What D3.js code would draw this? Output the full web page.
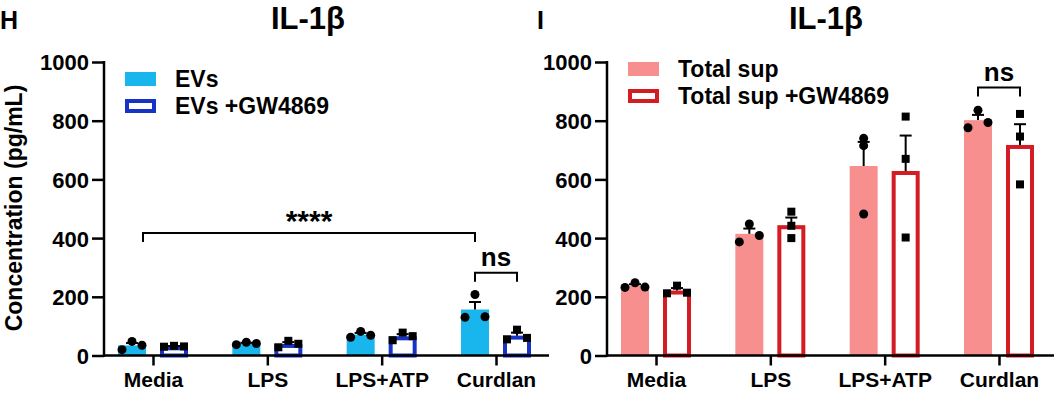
<!DOCTYPE html>
<html>
<head>
<meta charset="utf-8">
<script src="https://cdn.jsdelivr.net/npm/d3@7"></script>
<style>
  body { margin: 0; background: #fff; }
  svg { display: block; font-family: "Liberation Sans", Arial, sans-serif; font-weight: bold; }
</style>
</head>
<body>
<svg id="chart" width="1054" height="394"></svg>
<script>
// categories and ticks
const categories = ['Media', 'LPS', 'LPS+ATP', 'Curdlan'];
const yTicks = [0, 200, 400, 600, 800, 1000];

// panel H: EV replicates (pg/mL)
const evs = [[20, 48, 35], [37, 45, 41], [62, 82, 69], [130, 208, 132]];
const evsGW = [[30, 33, 31], [28, 50, 40], [52, 78, 66], [55, 88, 60]];

// panel I: total supernatant replicates (pg/mL)
const totalSup = [[232, 248, 233], [387, 448, 409], [482, 740, 715], [776, 836, 794]];
const totalSupGW = [[212, 238, 214], [400, 442, 490], [402, 670, 814], [583, 746, 823]];

const svg = d3.select('#chart');

const mean = a => d3.mean(a);
const sem = a => d3.deviation(a) / Math.sqrt(a.length);

function drawPanel(opts) {
    const g = svg.append('g').attr('transform', `translate(${opts.x},0)`);

    const y = d3.scaleLinear().domain([0, 1000]).range([355.5, 62]);
    const x = d3.scalePoint().domain(categories).range([49, 392]);
    const off = 21, bw = 28;

    // panel letter + title
    svg.append('text')
        .attr('x', opts.letterX).attr('y', 29)
        .attr('font-size', 25)
        .text(opts.letter);
    svg.append('text')
        .attr('x', opts.x + opts.titleX).attr('y', 29)
        .attr('text-anchor', 'middle')
        .attr('font-size', 31)
        .text('IL-1β');

    // bars: filled series
    opts.filled.forEach((vals, i) => {
        const cx = x(categories[i]) - off;
        g.append('rect')
            .attr('x', cx - bw / 2).attr('width', bw)
            .attr('y', y(mean(vals))).attr('height', y(0) - y(mean(vals)))
            .attr('fill', opts.fillColor);
    });
    // bars: outlined series
    opts.outlined.forEach((vals, i) => {
        const cx = x(categories[i]) + off;
        g.append('rect')
            .attr('x', cx - bw / 2 + 2).attr('width', bw - 4)
            .attr('y', y(mean(vals)) + 2).attr('height', y(0) - y(mean(vals)) - 2)
            .attr('fill', '#fff')
            .attr('stroke', opts.lineColor)
            .attr('stroke-width', 4);
    });

    // error bars (upward SEM)
    const errBar = (vals, cx) => {
        const m = mean(vals), top = m + sem(vals);
        g.append('line')
            .attr('x1', cx).attr('x2', cx)
            .attr('y1', y(m)).attr('y2', y(top))
            .attr('stroke', '#000').attr('stroke-width', 2);
        g.append('line')
            .attr('x1', cx - 6).attr('x2', cx + 6)
            .attr('y1', y(top)).attr('y2', y(top))
            .attr('stroke', '#000').attr('stroke-width', 2);
    };
    opts.filled.forEach((vals, i) => errBar(vals, x(categories[i]) - off));
    opts.outlined.forEach((vals, i) => errBar(vals, x(categories[i]) + off));

    // points
    opts.filled.forEach((vals, i) => {
        const cx = x(categories[i]) - off;
        vals.forEach((v, j) => {
            const spread = opts.spreadF[i] * (j - 1);
            g.append('circle')
                .attr('cx', cx + spread).attr('cy', y(v))
                .attr('r', 4.5).attr('fill', '#000');
        });
    });
    opts.outlined.forEach((vals, i) => {
        const cx = x(categories[i]) + off;
        vals.forEach((v, j) => {
            const spread = opts.spreadO[i] * (j - 1);
            g.append('rect')
                .attr('x', cx + spread - 4).attr('y', y(v) - 4)
                .attr('width', 8).attr('height', 8)
                .attr('fill', '#000');
        });
    });

    // y axis
    const yAxis = d3.axisLeft(y).tickValues(yTicks).tickFormat(d3.format('d')).tickSize(12).tickPadding(3);
    const ya = g.append('g').call(yAxis);
    ya.attr('font-size', null).attr('font-family', null);
    ya.select('.domain').remove();
    ya.selectAll('line').attr('stroke', '#000').attr('stroke-width', 2.5);
    ya.selectAll('text').style('font-size', '22px').attr('fill', '#000').attr('dy', '0.36em');
    g.append('line')
        .attr('x1', 0).attr('x2', 0).attr('y1', y(1000) - 1).attr('y2', y(0) + 1.25)
        .attr('stroke', '#000').attr('stroke-width', 2.5);

    // x axis
    const xAxis = d3.axisBottom(x).tickSize(10).tickPadding(7);
    const xa = g.append('g').attr('transform', `translate(0,${y(0)})`).call(xAxis);
    xa.attr('font-size', null).attr('font-family', null);
    xa.select('.domain').remove();
    xa.selectAll('line').attr('stroke', '#000').attr('stroke-width', 2.5);
    xa.selectAll('text').style('font-size', '21px').attr('fill', '#000');
    g.append('line')
        .attr('x1', 0).attr('x2', opts.axisEnd).attr('y1', y(0)).attr('y2', y(0))
        .attr('stroke', '#000').attr('stroke-width', 2.5);

    // legend
    const lg = g.append('g');
    opts.legend.forEach((label, i) => {
        const ly = opts.legendY + i * 27;
        if (i === 0) {
            lg.append('rect').attr('x', 21).attr('y', ly).attr('width', 31).attr('height', 14)
                .attr('fill', opts.fillColor);
        } else {
            lg.append('rect').attr('x', 23).attr('y', ly + 2).attr('width', 27).attr('height', 10)
                .attr('fill', '#fff').attr('stroke', opts.lineColor).attr('stroke-width', 4);
        }
        lg.append('text').attr('x', 71).attr('y', ly + 15)
            .attr('font-size', 23).text(label);
    });

    // significance brackets
    opts.brackets.forEach(b => {
        const x1 = x(categories[b.from]) + b.fromOff;
        const x2 = x(categories[b.to]) + b.toOff;
        const by = y(b.level);
        g.append('path')
            .attr('d', `M${x1},${by + 9}V${by}H${x2}V${by + 9}`)
            .attr('fill', 'none').attr('stroke', '#000').attr('stroke-width', 2);
        g.append('text')
            .attr('x', (x1 + x2) / 2).attr('y', by - b.gap)
            .attr('text-anchor', 'middle')
            .attr('font-size', b.size)
            .text(b.label);
    });
}

drawPanel({
    x: 104, letter: 'H', letterX: 0, titleX: 204, axisEnd: 445,
    filled: evs, outlined: evsGW,
    fillColor: '#19b6ee', lineColor: '#1633c6',
    spreadF: [10, 10, 10, 10], spreadO: [10, 10, 10, 10],
    legend: ['EVs', 'EVs +GW4869'], legendY: 72,
    brackets: [
        { from: 0, to: 3, fromOff: -10, toOff: -21, level: 417, label: '****', size: 30, gap: 2 },
        { from: 3, to: 3, fromOff: -21, toOff: 21, level: 282, label: 'ns', size: 26, gap: 7 }
    ]
});

drawPanel({
    x: 607, letter: 'I', letterX: 537, titleX: 219, axisEnd: 447,
    filled: totalSup, outlined: totalSupGW,
    fillColor: '#f78f8f', lineColor: '#d41c24',
    spreadF: [10, 10, 0, 10], spreadO: [10, 0, 0, 0],
    legend: ['Total sup', 'Total sup +GW4869'], legendY: 62,
    brackets: [
        { from: 3, to: 3, fromOff: -21, toOff: 21, level: 913, label: 'ns', size: 26, gap: 7 }
    ]
});

// y axis title
svg.append('text')
    .attr('transform', 'translate(22,208) rotate(-90)')
    .attr('text-anchor', 'middle')
    .attr('font-size', 23)
    .text('Concentration (pg/mL)');
</script>
</body>
</html>
